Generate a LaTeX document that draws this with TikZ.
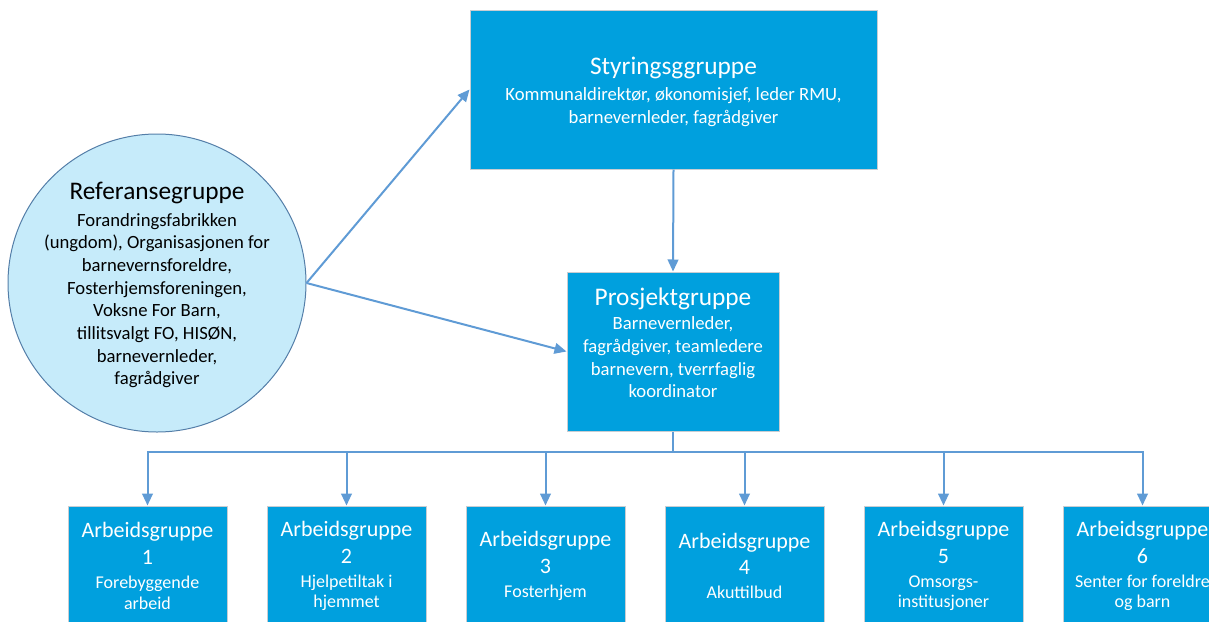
\documentclass[tikz,border=0pt]{standalone}
\usepackage{fontspec}
\setmainfont{Carlito}
\usetikzlibrary{arrows.meta, positioning}

\definecolor{grpblue}{RGB}{0,160,222}
\definecolor{refblue}{RGB}{198,235,250}
\definecolor{refedge}{RGB}{84,126,168}
\definecolor{linkblue}{RGB}{95,155,213}
\definecolor{boxedge}{RGB}{200,205,210}

\newcommand{\grptitle}{\fontsize{19}{23}\selectfont}
\newcommand{\grpbody}{\fontsize{14}{17}\selectfont}
\newcommand{\arbtitle}{\fontsize{16.5}{20}\selectfont}
\newcommand{\arbbody}{\fontsize{13.5}{15.5}\selectfont}

\tikzset{
  grpbox/.style={draw=boxedge, fill=grpblue, line width=0.75pt, inner sep=0pt},
  arbbox/.style={grpbox, minimum width=119.25pt, minimum height=91.5pt},
  refcircle/.style={circle, draw=refedge, fill=refblue, line width=0.75pt, inner sep=0pt},
  boxtext/.style={inner sep=0.75pt, align=center, text=white, font=\grpbody},
  arbtext/.style={inner sep=0.75pt, align=center, text=white, font=\arbtitle},
  link/.style={draw=linkblue, line width=1.5pt},
  linkarrow/.style={link, -{Triangle[length=9pt,width=8pt]}}
}

\begin{document}
\begin{tikzpicture}[x=0.75pt,y=0.75pt,yscale=-1,xscale=1]
\useasboundingbox (0,0) rectangle (1209,621);

%Shape: Rectangle [styring]
\node (styring) [grpbox, minimum width=305.25pt, minimum height=119.25pt] at (673.5,89.5) {};
%Shape: Circle [referanse]
\node (referanse) [refcircle, minimum size=223.5pt] at (157,283) {};
%Shape: Rectangle [prosjekt]
\node (prosjekt) [grpbox, minimum width=159pt, minimum height=119.25pt] at (673,351.5) {};

%Shape: Rectangle [arbeidsgrupper]
\node (arb1) [arbbox] at (147.5,567) {};
\node (arb2) [arbbox] at (346.5,567) {};
\node (arb3) [arbbox] at (545.5,567) {};
\node (arb4) [arbbox] at (744.5,567) {};
\node (arb5) [arbbox] at (943.5,567) {};
\node (arb6) [arbbox] at (1142.5,567) {};

%Straight Lines [referanse -> styring, prosjekt]
\draw [linkarrow] (referanse.east) -- (styring.west);
\draw [linkarrow] (referanse.east) -- (prosjekt.west);
%Straight Lines [styring -> prosjekt]
\draw [linkarrow] (styring.south) -- (prosjekt.north);

%Straight Lines [prosjekt -> arbeidsgrupper]
\coordinate (bus) at (673,452);
\draw [link] (prosjekt.south) -- (bus);
\draw [linkarrow] (bus) -| (arb1.north);
\draw [linkarrow] (bus) -| (arb2.north);
\draw [linkarrow] (bus) -| (arb3.north);
\draw [linkarrow] (bus) -| (arb4.north);
\draw [linkarrow] (bus) -| (arb5.north);
\draw [linkarrow] (bus) -| (arb6.north);

% Text Node
\node (styringtxt) [boxtext] at (673.5,92) {{\grptitle Styringsggruppe}\\[2.5pt]Kommunaldirektør, økonomisjef, leder RMU,\\barnevernleder, fagrådgiver};
% Text Node
\node (referansetxt) [boxtext, text=black] at (157,285) {{\grptitle Referansegruppe}\\[3pt]Forandringsfabrikken\\(ungdom), Organisasjonen for\\barnevernsforeldre,\\Fosterhjemsforeningen,\\Voksne For Barn,\\tillitsvalgt FO, HISØN,\\barnevernleder,\\fagrådgiver};
% Text Node
\node (prosjekttxt) [boxtext] at (673,343) {{\grptitle Prosjektgruppe}\\[1pt]Barnevernleder,\\fagrådgiver, teamledere\\barnevern, tverrfaglig\\koordinator};

% Text Node
\node (arb1txt) [arbtext] at (147.5,566) {Arbeidsgruppe\\1\\[-2pt]{\arbbody Forebyggende}\\[-4.5pt]{\arbbody arbeid}};
% Text Node
\node (arb2txt) [arbtext] at (346.5,566) {Arbeidsgruppe\\2\\[-2pt]{\arbbody Hjelpetiltak i}\\[-4.5pt]{\arbbody hjemmet}};
% Text Node
\node (arb3txt) [arbtext] at (545.5,566) {Arbeidsgruppe\\3\\[-2pt]{\arbbody Fosterhjem}};
% Text Node
\node (arb4txt) [arbtext] at (744.5,566) {Arbeidsgruppe\\4\\[-2pt]{\arbbody Akuttilbud}};
% Text Node
\node (arb5txt) [arbtext] at (943.5,566) {Arbeidsgruppe\\5\\[-2pt]{\arbbody Omsorgs-}\\[-4.5pt]{\arbbody institusjoner}};
% Text Node
\node (arb6txt) [arbtext] at (1142.5,566) {Arbeidsgruppe\\6\\[-2pt]{\arbbody Senter for foreldre}\\[-4.5pt]{\arbbody og barn}};

\end{tikzpicture}
\end{document}
